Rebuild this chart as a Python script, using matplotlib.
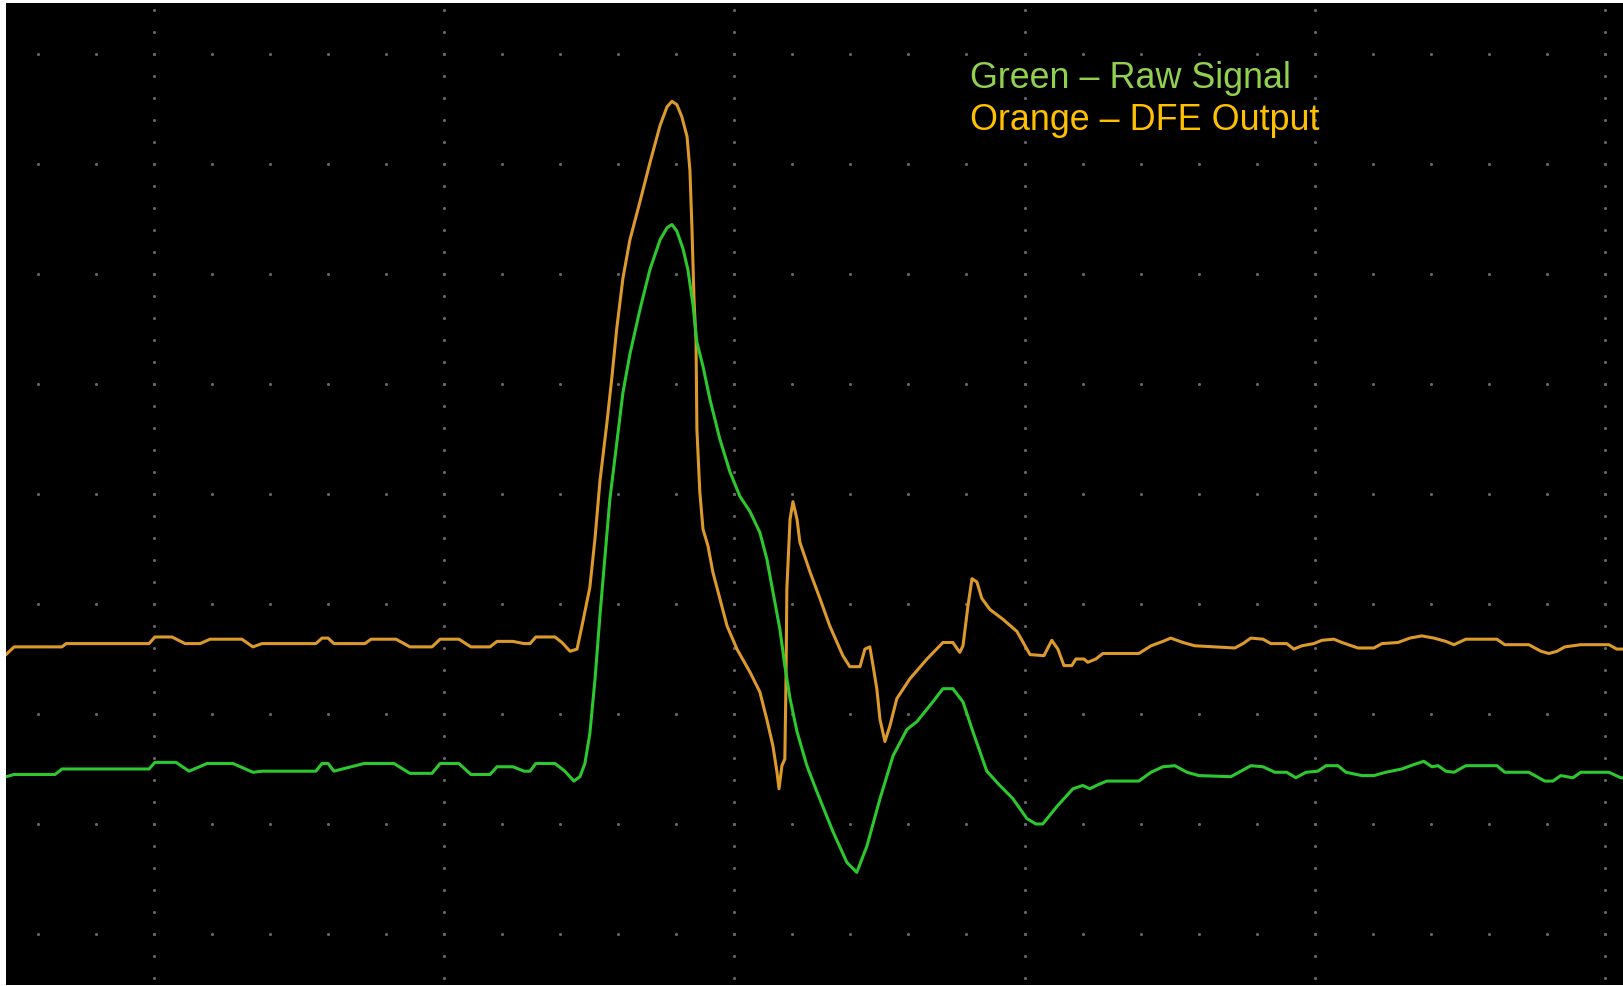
#!/usr/bin/env python3
import matplotlib
matplotlib.use('Agg')
import matplotlib.pyplot as plt
import numpy as np

# time and amplitude in scope divisions
orange_t = [-0.510, -0.482, -0.317, -0.303, -0.017, 0.003, 0.062, 0.107, 0.159, 0.193,
            0.303, 0.341, 0.372, 0.558, 0.579, 0.600, 0.620, 0.727, 0.748, 0.834,
            0.882, 0.958, 0.986, 1.051, 1.092, 1.158, 1.182, 1.237, 1.275, 1.296,
            1.316, 1.382, 1.406, 1.434, 1.458, 1.478, 1.502, 1.520, 1.537, 1.561,
            1.578, 1.595, 1.616, 1.640, 1.675, 1.709, 1.744, 1.768, 1.785, 1.802,
            1.819, 1.837, 1.847, 1.854, 1.861, 1.868, 1.871, 1.881, 1.892, 1.909,
            1.926, 1.950, 1.975, 2.009, 2.054, 2.088, 2.112, 2.133, 2.147, 2.154,
            2.164, 2.174, 2.178, 2.181, 2.192, 2.202, 2.216, 2.226, 2.261, 2.295,
            2.329, 2.374, 2.398, 2.433, 2.450, 2.467, 2.478, 2.491, 2.502, 2.519,
            2.536, 2.560, 2.605, 2.664, 2.719, 2.753, 2.777, 2.788, 2.805, 2.819,
            2.836, 2.853, 2.881, 2.926, 2.974, 3.019, 3.067, 3.094, 3.115, 3.136,
            3.163, 3.177, 3.205, 3.218, 3.246, 3.270, 3.394, 3.436, 3.477, 3.504,
            3.546, 3.587, 3.725, 3.753, 3.780, 3.822, 3.849, 3.904, 3.928, 3.956,
            3.997, 4.025, 4.066, 4.094, 4.149, 4.204, 4.232, 4.287, 4.328, 4.369,
            4.411, 4.452, 4.480, 4.521, 4.628, 4.655, 4.738, 4.780, 4.807, 4.835,
            4.862, 4.917, 5.014, 5.041, 5.066]
orange_v = [-1.46, -1.39, -1.39, -1.36, -1.36, -1.30, -1.30, -1.36, -1.36, -1.32,
            -1.32, -1.39, -1.36, -1.36, -1.31, -1.31, -1.36, -1.36, -1.32, -1.32,
            -1.39, -1.39, -1.32, -1.32, -1.39, -1.39, -1.34, -1.34, -1.36, -1.36,
            -1.30, -1.30, -1.35, -1.43, -1.41, -1.16, -0.85, -0.40, 0.12, 0.65,
            1.06, 1.51, 1.96, 2.31, 2.66, 3.01, 3.35, 3.52, 3.57, 3.54,
            3.43, 3.25, 2.94, 2.41, 1.77, 1.38, 0.59, 0.02, -0.32, -0.47,
            -0.71, -0.95, -1.20, -1.41, -1.62, -1.80, -2.05, -2.29, -2.53, -2.68,
            -2.47, -2.41, -1.71, -0.86, -0.23, -0.07, -0.23, -0.44, -0.71, -0.95,
            -1.20, -1.47, -1.57, -1.57, -1.41, -1.39, -1.56, -1.77, -2.05, -2.25,
            -2.11, -1.86, -1.68, -1.50, -1.35, -1.35, -1.44, -1.38, -1.02, -0.77,
            -0.80, -0.95, -1.05, -1.14, -1.25, -1.46, -1.47, -1.33, -1.41, -1.56,
            -1.56, -1.50, -1.50, -1.53, -1.50, -1.45, -1.45, -1.38, -1.34, -1.31,
            -1.35, -1.38, -1.40, -1.36, -1.31, -1.32, -1.36, -1.36, -1.41, -1.38,
            -1.36, -1.33, -1.32, -1.35, -1.40, -1.40, -1.36, -1.35, -1.31, -1.29,
            -1.31, -1.34, -1.37, -1.32, -1.32, -1.37, -1.37, -1.43, -1.45, -1.43,
            -1.39, -1.37, -1.37, -1.41, -1.41]

green_t = [-0.510, -0.482, -0.341, -0.317, -0.017, 0.003, 0.076, 0.121, 0.183, 0.272,
           0.341, 0.372, 0.558, 0.579, 0.600, 0.620, 0.724, 0.827, 0.882, 0.958,
           0.986, 1.051, 1.092, 1.158, 1.182, 1.237, 1.275, 1.296, 1.316, 1.382,
           1.416, 1.447, 1.468, 1.485, 1.502, 1.520, 1.537, 1.554, 1.571, 1.595,
           1.616, 1.640, 1.675, 1.709, 1.744, 1.768, 1.785, 1.802, 1.823, 1.840,
           1.857, 1.871, 1.892, 1.916, 1.950, 1.985, 2.019, 2.054, 2.088, 2.112,
           2.133, 2.157, 2.174, 2.192, 2.216, 2.250, 2.285, 2.340, 2.388, 2.422,
           2.457, 2.502, 2.547, 2.595, 2.629, 2.684, 2.719, 2.753, 2.788, 2.822,
           2.870, 2.915, 2.960, 3.008, 3.039, 3.063, 3.112, 3.167, 3.201, 3.225,
           3.256, 3.284, 3.394, 3.436, 3.477, 3.518, 3.560, 3.601, 3.711, 3.739,
           3.780, 3.822, 3.863, 3.904, 3.935, 3.970, 4.011, 4.039, 4.080, 4.108,
           4.163, 4.204, 4.245, 4.300, 4.342, 4.376, 4.404, 4.425, 4.452, 4.480,
           4.521, 4.628, 4.655, 4.738, 4.793, 4.821, 4.848, 4.890, 4.917, 5.014,
           5.055, 5.066]
green_v = [-2.57, -2.55, -2.55, -2.50, -2.50, -2.44, -2.44, -2.52, -2.45, -2.45,
           -2.53, -2.52, -2.52, -2.45, -2.45, -2.52, -2.45, -2.45, -2.54, -2.54,
           -2.45, -2.45, -2.55, -2.55, -2.48, -2.48, -2.52, -2.52, -2.45, -2.45,
           -2.52, -2.61, -2.57, -2.45, -2.18, -1.68, -1.10, -0.57, -0.05, 0.47,
           0.92, 1.27, 1.68, 2.04, 2.31, 2.42, 2.45, 2.39, 2.23, 2.04,
           1.73, 1.38, 1.16, 0.86, 0.50, 0.20, -0.02, -0.16, -0.35, -0.59,
           -0.89, -1.23, -1.56, -1.86, -2.16, -2.47, -2.71, -3.07, -3.35, -3.44,
           -3.20, -2.77, -2.38, -2.14, -2.07, -1.89, -1.77, -1.77, -1.89, -2.16,
           -2.52, -2.65, -2.77, -2.95, -3.00, -3.00, -2.84, -2.68, -2.65, -2.68,
           -2.64, -2.61, -2.61, -2.53, -2.48, -2.47, -2.53, -2.56, -2.57, -2.53,
           -2.47, -2.48, -2.53, -2.53, -2.58, -2.53, -2.52, -2.47, -2.47, -2.53,
           -2.56, -2.56, -2.53, -2.50, -2.46, -2.43, -2.48, -2.47, -2.52, -2.53,
           -2.47, -2.47, -2.53, -2.53, -2.61, -2.61, -2.56, -2.58, -2.53, -2.53,
           -2.58, -2.58]

legend_lines = ['Green \u2013 Raw Signal', 'Orange \u2013 DFE Output']
legend_colors = ['#92D050', '#FFC000']

W, H = 1624, 987
fig = plt.figure(figsize=(W / 100, H / 100), dpi=100, facecolor='white')
ax = fig.add_axes([6 / W, 1 / H, (W - 6) / W, (H - 5) / H])
ax.set_facecolor('black')
ax.set_xlim(-0.510, 5.066)
ax.set_ylim(-4.464, 4.464)
ax.set_xticks([])
ax.set_yticks([])
for s in ax.spines.values():
    s.set_visible(False)

# dotted graticule: dots along the major rows and columns, 5 per division
dot_c = '#666666'
fine = np.arange(-3, 31) * 0.2
rows = np.arange(-4, 5)
cols = np.arange(0, 6)
gx, gy = np.meshgrid(fine, rows)
ax.scatter(gx.ravel(), gy.ravel(), s=5, c=dot_c, linewidths=0, zorder=1)
gx, gy = np.meshgrid(cols, np.arange(-23, 24) * 0.2)
ax.scatter(gx.ravel(), gy.ravel(), s=5, c=dot_c, linewidths=0, zorder=1)

ax.plot(orange_t, orange_v, color='#DC9A2C', lw=2.2, zorder=3, solid_joinstyle='round')
ax.plot(green_t, green_v, color='#2DC82D', lw=2.2, zorder=3, solid_joinstyle='round')

for i, (txt, col) in enumerate(zip(legend_lines, legend_colors)):
    ax.text(2.812, 3.70 - i * 0.385, txt, color=col, fontsize=25.8,
            family=['Liberation Sans', 'DejaVu Sans'], va='baseline', ha='left', zorder=4)

fig.savefig('out.png', dpi=100, facecolor='white')
